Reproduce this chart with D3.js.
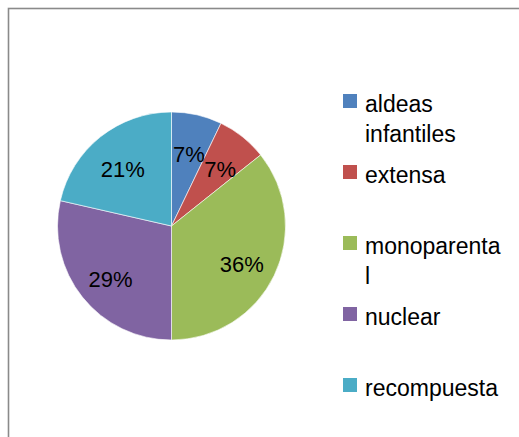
<!DOCTYPE html>
<html>
<head>
<meta charset="utf-8">
<title>Tipo de familia</title>
<style>
body {margin: 0; background: #fff;}
text {font-family: "Liberation Sans", Arial, sans-serif; fill: #000;}
</style>
</head>
<body>
<div id="chart"></div>
<script src="https://cdn.jsdelivr.net/npm/d3@7"></script>
<script>
// data (counts out of 14)
var categories = ["aldeas infantiles", "extensa", "monoparental", "nuclear", "recompuesta"];
var values = [1, 1, 5, 4, 3];
var legendLines = [["aldeas", "infantiles"], ["extensa"], ["monoparenta", "l"], ["nuclear"], ["recompuesta"]];
var colors = ["#4F81BD", "#C0504D", "#9BBB59", "#8064A2", "#4BACC6"];

var width = 519;
var height = 437;
var cx = 171.5, cy = 226, radius = 114;

var svg = d3.select('#chart')
	.append('svg')
	.attr('width', width)
	.attr('height', height);

// chart frame (right and bottom edges fall outside the picture)
svg.append('rect')
	.attr('x', 8.5)
	.attr('y', 8.5)
	.attr('width', 700)
	.attr('height', 700)
	.attr('fill', 'none')
	.attr('stroke', '#8a8a8a')
	.attr('stroke-width', 1.6);

var color = d3.scaleOrdinal().domain(categories).range(colors);
var total = d3.sum(values);

var pie = d3.pie()
	.value(function(d) { return d.value; })
	.sort(null);
var arc = d3.arc().innerRadius(0).outerRadius(radius);
var labelArc = d3.arc().innerRadius(78).outerRadius(78);

var data = categories.map(function(c, i) { return {label: c, value: values[i]}; });

var g = svg.append('g')
	.attr('transform', 'translate(' + cx + ',' + cy + ')');

g.selectAll('path')
	.data(pie(data))
	.enter()
	.append('path')
	.attr('d', arc)
	.attr('fill', function(d) { return color(d.data.label); })
	.attr('stroke', '#fff')
	.attr('stroke-width', 0.6);

g.selectAll('.pct')
	.data(pie(data))
	.enter()
	.append('text')
	.attr('class', 'pct')
	.attr('transform', function(d) { return 'translate(' + labelArc.centroid(d) + ')'; })
	.attr('text-anchor', 'middle')
	.attr('dy', '0.55em')
	.style('font-size', '22px')
	.text(function(d) { return Math.round(d.data.value / total * 100) + '%'; });

// legend
var legendY = d3.scalePoint().domain(categories).range([94, 378]);

var legend = svg.selectAll('.legend')
	.data(categories)
	.enter()
	.append('g')
	.attr('class', 'legend')
	.attr('transform', function(d) { return 'translate(343,' + legendY(d) + ')'; });

legend.append('rect')
	.attr('width', 14)
	.attr('height', 14)
	.attr('fill', color);

legend.append('text')
	.style('font-size', '23px')
	.selectAll('tspan')
	.data(function(d, i) { return legendLines[i]; })
	.enter()
	.append('tspan')
	.attr('x', 22)
	.attr('y', function(d, i) { return 18 + i * 30; })
	.text(function(d) { return d; });
</script>
</body>
</html>
